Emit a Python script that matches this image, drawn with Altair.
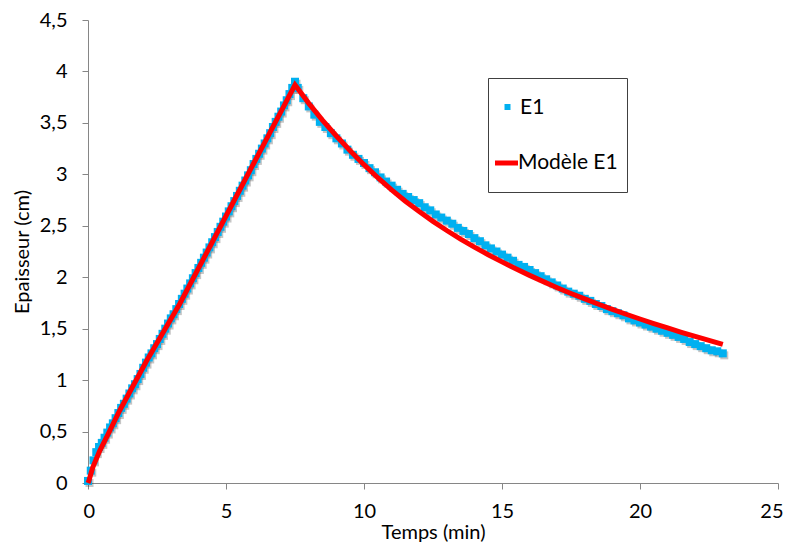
import altair as alt
import pandas as pd

e1_time_rise = [round(0.1 * i, 1) for i in range(76)]          # 0.0 .. 7.5 min
e1_val_rise = [
    0.02, 0.12, 0.22, 0.30, 0.35, 0.39, 0.44, 0.49, 0.54, 0.58,
    0.63, 0.68, 0.73, 0.77, 0.82, 0.87, 0.92, 0.96, 1.01, 1.06,
    1.12, 1.17, 1.22, 1.26, 1.31, 1.35, 1.40, 1.45, 1.50, 1.55,
    1.60, 1.64, 1.69, 1.74, 1.79, 1.84, 1.89, 1.94, 1.99, 2.04,
    2.09, 2.14, 2.19, 2.24, 2.29, 2.34, 2.39, 2.44, 2.49, 2.54,
    2.59, 2.64, 2.69, 2.74, 2.79, 2.84, 2.89, 2.94, 2.99, 3.04,
    3.10, 3.15, 3.20, 3.25, 3.30, 3.35, 3.40, 3.46, 3.51, 3.56,
    3.61, 3.67, 3.72, 3.78, 3.84, 3.90,
]
e1_time_decay = [round(7.6 + 0.2 * i, 1) for i in range(78)]   # 7.6 .. 23.0 min
e1_val_decay = [
    3.84, 3.74, 3.66, 3.58, 3.51, 3.46, 3.40, 3.35, 3.30, 3.24,
    3.19, 3.15, 3.11, 3.06, 3.02, 2.97, 2.93, 2.89, 2.85, 2.81,
    2.78, 2.75, 2.72, 2.68, 2.65, 2.61, 2.58, 2.55, 2.52, 2.48,
    2.45, 2.42, 2.38, 2.35, 2.31, 2.28, 2.25, 2.22, 2.19, 2.16,
    2.12, 2.10, 2.07, 2.04, 2.01, 1.98, 1.95, 1.92, 1.89, 1.86,
    1.84, 1.82, 1.79, 1.77, 1.74, 1.72, 1.69, 1.67, 1.65, 1.63,
    1.60, 1.58, 1.56, 1.54, 1.52, 1.50, 1.48, 1.46, 1.44, 1.42,
    1.40, 1.37, 1.35, 1.33, 1.31, 1.29, 1.28, 1.26,
]

# ---- Model curve "Modèle E1" ----
model_time = [0, 0.03, 0.17, 0.42, 0.72, 1.14, 2.11, 3.32, 4.5, 5.5, 6.5, 7.5,
              8.0, 8.5, 9.0, 9.5, 10.0, 10.5, 11.0, 11.5, 12.0, 12.5, 13.0,
              13.5, 14.0, 14.5, 15.0, 15.5, 16.0, 16.5, 17.0, 17.5, 18.0,
              18.5, 19.0, 19.5, 20.0, 20.5, 21.0, 21.5, 22.0, 22.5, 23.0]
model_val = [0, 0.02, 0.15, 0.31, 0.47, 0.70, 1.18, 1.74, 2.34, 2.85, 3.36, 3.87,
             3.690, 3.525, 3.373, 3.229, 3.094, 2.967, 2.849, 2.739, 2.638, 2.543,
             2.454, 2.371, 2.293, 2.219, 2.149, 2.082, 2.018, 1.957, 1.898,
             1.842, 1.789, 1.737, 1.688, 1.640, 1.594, 1.550, 1.507, 1.465,
             1.425, 1.386, 1.348]

legend_labels = ["E1", "Modèle E1"]
x_ticks = [0, 5, 10, 15, 20, 25]
y_ticks = [0, 0.5, 1, 1.5, 2, 2.5, 3, 3.5, 4, 4.5]

FONT = "Lato"
FS = 20
BLUE = "#00b0f0"
RED = "#ff0000"

e1 = pd.DataFrame({"t": e1_time_rise + e1_time_decay,
                   "v": e1_val_rise + e1_val_decay})
model = pd.DataFrame({"t": model_time, "v": model_val})

x_enc = alt.X("t:Q", scale=alt.Scale(domain=[0, 25], nice=False),
              axis=alt.Axis(values=x_ticks, title="Temps (min)",
                            labelFlush=True, labelFlushOffset=5))
y_enc = alt.Y("v:Q", scale=alt.Scale(domain=[0, 4.5], nice=False),
              axis=alt.Axis(values=y_ticks, title="Epaisseur (cm)",
                            labelExpr="replace(toString(datum.value), '.', ',')"))

shadow = alt.Chart(e1).mark_square(size=64, color="#404040", opacity=0.3,
                                   xOffset=1.5, yOffset=2).encode(x=x_enc, y=y_enc)
points = alt.Chart(e1).mark_square(size=64, color=BLUE, opacity=1).encode(x=x_enc, y=y_enc)
line = alt.Chart(model).mark_line(color=RED, strokeWidth=5).encode(x=x_enc, y=y_enc)

one = pd.DataFrame({"k": [0]})
leg_box = alt.Chart(one).mark_rect(fill="white", stroke="#404040", strokeWidth=1).encode(
    x=alt.value(400.5), x2=alt.value(539.5), y=alt.value(58.5), y2=alt.value(172.5))
leg_sq = alt.Chart(one).mark_square(size=36, color=BLUE, opacity=1).encode(
    x=alt.value(419.5), y=alt.value(87))
leg_line = alt.Chart(one).mark_rule(color=RED, strokeWidth=5).encode(
    x=alt.value(407), x2=alt.value(430), y=alt.value(143))
leg_t1 = alt.Chart(one).mark_text(align="left", baseline="middle", font=FONT,
                                  fontSize=21, color="black").encode(
    x=alt.value(432), y=alt.value(88), text=alt.value(legend_labels[0]))
leg_t2 = alt.Chart(one).mark_text(align="left", baseline="middle", font=FONT,
                                  fontSize=21, color="black").encode(
    x=alt.value(430), y=alt.value(143), text=alt.value(legend_labels[1]))

chart = alt.layer(shadow, points, line, leg_box, leg_sq, leg_line, leg_t1, leg_t2).properties(
    width=690, height=463,
    autosize=alt.AutoSizeParams(type="none"),
    padding={"left": 80, "top": 12, "right": 5, "bottom": 61},
).configure_view(stroke=None).configure_axis(
    grid=False, domainColor="#868686", tickColor="#868686", tickSize=6,
    labelFont=FONT, labelFontSize=FS, labelColor="black",
    titleFont=FONT, titleFontSize=FS, titleColor="black", titleFontWeight="normal",
).configure_axisX(labelPadding=12, titlePadding=1).configure_axisY(
    labelPadding=15, titlePadding=7)

chart.save("out.html", embed_options={"renderer": "svg", "actions": False})
